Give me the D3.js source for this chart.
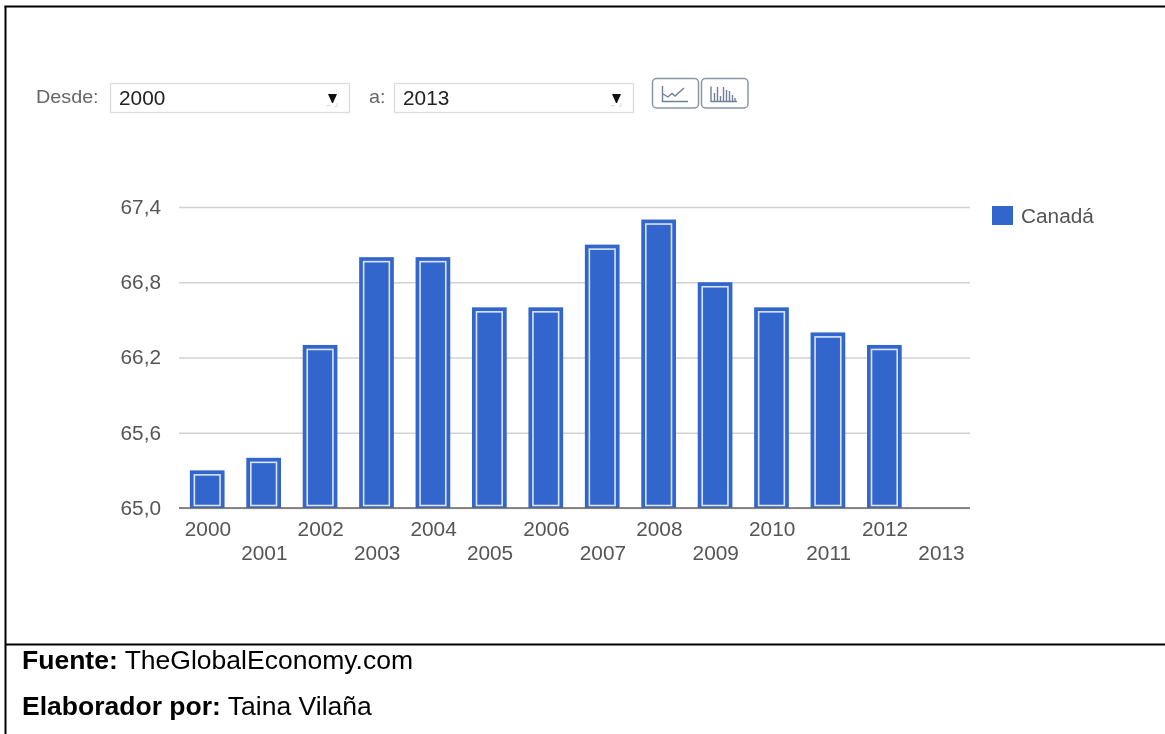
<!DOCTYPE html>
<html><head><meta charset="utf-8">
<script src="https://cdn.jsdelivr.net/npm/d3@7/dist/d3.min.js"></script>
<style>html,body{margin:0;padding:0;background:#fff;overflow:hidden}svg{display:block;filter:blur(.35px)}text{font-family:"Liberation Sans",Arial,sans-serif}</style>
</head><body><svg id="c" width="1165" height="734"></svg>
<script>
const years=[2000,2001,2002,2003,2004,2005,2006,2007,2008,2009,2010,2011,2012,2013];
const values=[65.3,65.4,66.3,67.0,67.0,66.6,66.6,67.1,67.3,66.8,66.6,66.4,66.3,null];
const yTicks=[65.0,65.6,66.2,66.8,67.4];
const seriesName="Canadá";
const blue="#3366cc";
const svg=d3.select("#c");
const x=d3.scaleBand().domain(years).range([179,969]);
const y=d3.scaleLinear().domain([65,67.4]).range([508,207]);
const fmt=v=>d3.format(".1f")(v).replace(".",",");
// frame
const black="#000";
[[4.5,6.5,1165,6.5],[5.5,6,5.5,734],[5,644.5,1165,644.5]].forEach(l=>svg.append("line").attr("x1",l[0]).attr("y1",l[1]).attr("x2",l[2]).attr("y2",l[3]).attr("stroke",black).attr("stroke-width",2));
// controls
function select(lbl,lx,bx,val){
 svg.append("text").attr("x",lx).attr("y",103).attr("font-size",19).attr("fill","#666").text(lbl);
 svg.append("rect").attr("x",bx+.5).attr("y",83.5).attr("width",239).attr("height",29).attr("fill","#fff").attr("stroke","#dcdcdc").attr("stroke-width",1.3);
 svg.append("text").attr("x",bx+9).attr("y",104.5).attr("font-size",20).attr("fill","#222").text(val);
 svg.append("path").attr("d",`M${bx+218},94h9l-4,9h-1z`).attr("fill","#111");
 svg.append("path").attr("d",`M${bx+217},106.5v-1h4M${bx+227},103v3.5h-2`).attr("fill","none").attr("stroke","#ddd");
}
select("Desde:",36,110,"2000");
select("a:",369,394,"2013");
function btn(bx,w){svg.append("rect").attr("x",bx).attr("y",78.5).attr("width",w).attr("height",29.5).attr("rx",4).attr("fill","#fff").attr("stroke","#8796a5").attr("stroke-width",1.5);}
btn(652.5,46);btn(701.5,46.5);
const ic="#6f8296";
svg.append("path").attr("d","M662.5,86V101.5H688M663,94L668,97L672,93.5L675,96L684,88").attr("fill","none").attr("stroke",ic).attr("stroke-width",1.4);
svg.append("path").attr("d","M711,86.5V101.5H737M714.5,101V93M717.5,101V87M720.5,101V96M723.5,101V87M726.5,101V90M729.5,101V91M732.5,101V95M735,101V98").attr("fill","none").attr("stroke",ic).attr("stroke-width",1.4);
// y grid
const ax=svg.append("g").attr("transform","translate(179,0)").call(d3.axisLeft(y).tickValues(yTicks).tickFormat(fmt).tickSize(-791).tickPadding(18));
ax.select(".domain").remove();
ax.selectAll("line").attr("stroke","#d2d2d2").attr("stroke-width",1.3);
ax.selectAll("text").attr("font-size",20).attr("fill","#555").attr("font-family",'"Liberation Sans",Arial,sans-serif');
// bars
const bw=34.7;
const data=years.map((yr,i)=>({yr,v:values[i]})).filter(d=>d.v!=null);
const bx=d=>x(d.yr)+x.bandwidth()/2-bw/2;
svg.append("g").selectAll("rect").data(data).join("rect").attr("x",bx).attr("y",d=>y(d.v)).attr("width",bw).attr("height",d=>508-y(d.v)).attr("fill",blue);
svg.append("g").selectAll("rect").data(data).join("rect").attr("x",d=>bx(d)+4.5).attr("y",d=>y(d.v)+4.5).attr("width",bw-9).attr("height",d=>508-y(d.v)-7).attr("fill","none").attr("stroke","#dbe4f7").attr("stroke-width",1.6);
// baseline
svg.append("line").attr("x1",179).attr("x2",970).attr("y1",y(65)).attr("y2",y(65)).attr("stroke","#666").attr("stroke-width",1.3);
// x labels
svg.append("g").selectAll("text").data(years).join("text").attr("x",d=>x(d)+x.bandwidth()/2+.7).attr("y",(d,i)=>i%2?559.5:535.5).attr("text-anchor","middle").attr("font-size",20).attr("fill","#555").text(d=>d);
// legend
svg.append("rect").attr("x",992).attr("y",206).attr("width",21).attr("height",19).attr("fill",blue);
svg.append("text").attr("x",1021).attr("y",222.5).attr("font-size",20).attr("fill","#555").text(seriesName);
// source
function note(yy,b,t){const e=svg.append("text").attr("x",22).attr("y",yy).attr("font-size",25.5).attr("fill","#000");
 e.append("tspan").attr("font-weight","bold").text(b);e.append("tspan").text(" "+t);}
note(669,"Fuente:","TheGlobalEconomy.com");
note(715,"Elaborador por:","Taina Vilaña");
// the reference's text is slightly stretched horizontally
svg.selectAll("text").each(function(){const n=this;n.setAttribute("textLength",n.getComputedTextLength()*1.04);n.setAttribute("lengthAdjust","spacingAndGlyphs");});
</script></body></html>
